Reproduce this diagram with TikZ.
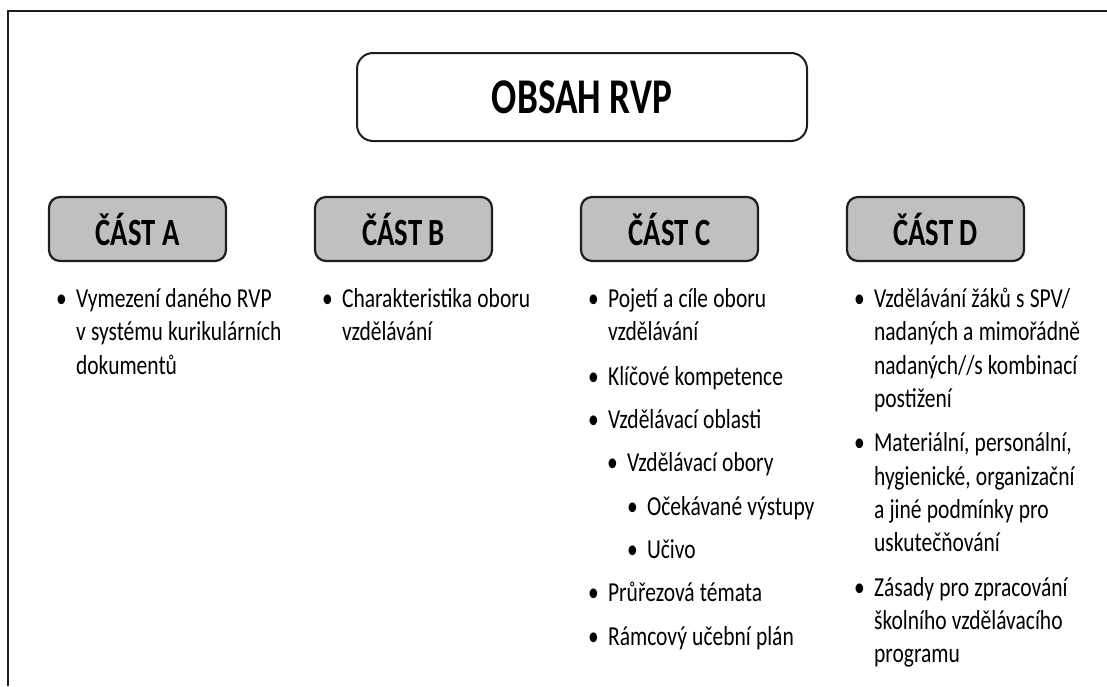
\documentclass[tikz,border=0pt]{standalone}
\usepackage{fontspec}
\setmainfont{Carlito}[FakeStretch=0.745]
\newfontfamily\listfont{Carlito}[FakeStretch=0.785]
\usetikzlibrary{positioning,shapes}
\definecolor{partgray}{HTML}{C0C0C0}
\definecolor{linegray}{HTML}{1E1E1E}
\tikzstyle{heading} = [draw=linegray, line width=2pt, rectangle, fill=white, rounded corners=16pt, minimum width=450pt, minimum height=88pt, font=\fontsize{50}{60}\selectfont\bfseries]
\tikzstyle{part} = [draw=linegray, line width=2.2pt, rectangle, fill=partgray, rounded corners=11pt, minimum width=177pt, minimum height=64pt, font=\fontsize{38.5}{46}\selectfont\bfseries]
\tikzstyle{items} = [anchor=north west, inner sep=0pt, text width=250pt, font=\listfont\fontsize{27.4}{33.3}\selectfont, execute at begin node={\setlength{\parskip}{10pt}\spaceskip=5.2pt plus 1pt minus 1pt}]
\newcommand{\itm}[2][0pt]{\par\noindent\hspace*{#1}\makebox[20pt][l]{\textbullet}\parbox[t]{\dimexpr 230pt-#1\relax}{\strut#2\strut}}

\begin{document}
\begin{tikzpicture}[x=1pt, y=1pt, node distance=266pt]
    \useasboundingbox (0,0) rectangle (1107,-686);
    % Frame
    \draw [linegray, line width=2pt] (8,-686) -- (8,-11) -- (1107,-11);
    % Place nodes
    \node [heading] (obsah) at (582,-97) {OBSAH RVP};
    \node [part] (partA) at (137.5,-229) {ČÁST A};
    \node [part, right of=partA] (partB) {ČÁST B};
    \node [part, right of=partB] (partC) {ČÁST C};
    \node [part, right of=partC] (partD) {ČÁST D};
    % Lists
    \node [items, below right=2pt and 8pt of partA.south west] (listA) {%
        \itm{Vymezení daného RVP\\ v systému kurikulárních\\ dokumentů}};
    \node [items, below right=2pt and 8pt of partB.south west] (listB) {%
        \itm{Charakteristika oboru\\ vzdělávání}};
    \node [items, below right=2pt and 8pt of partC.south west] (listC) {%
        \itm{Pojetí a cíle oboru\\ vzdělávání}
        \itm{Klíčové kompetence}
        \itm{Vzdělávací oblasti}
        \itm[19pt]{Vzdělávací obory}
        \itm[39pt]{Očekávané výstupy}
        \itm[39pt]{Učivo}
        \itm{Průřezová témata}
        \itm{Rámcový učební plán}};
    \node [items, below right=2pt and 8pt of partD.south west] (listD) {%
        \itm{Vzdělávání žáků s SPV/\\ nadaných a mimořádně\\ nadaných//s kombinací\\ postižení}
        \itm{Materiální, personální,\\ hygienické, organizační\\ a jiné podmínky pro\\ uskutečňování}
        \itm{Zásady pro zpracování\\ školního vzdělávacího\\ programu}};
\end{tikzpicture}
\end{document}
